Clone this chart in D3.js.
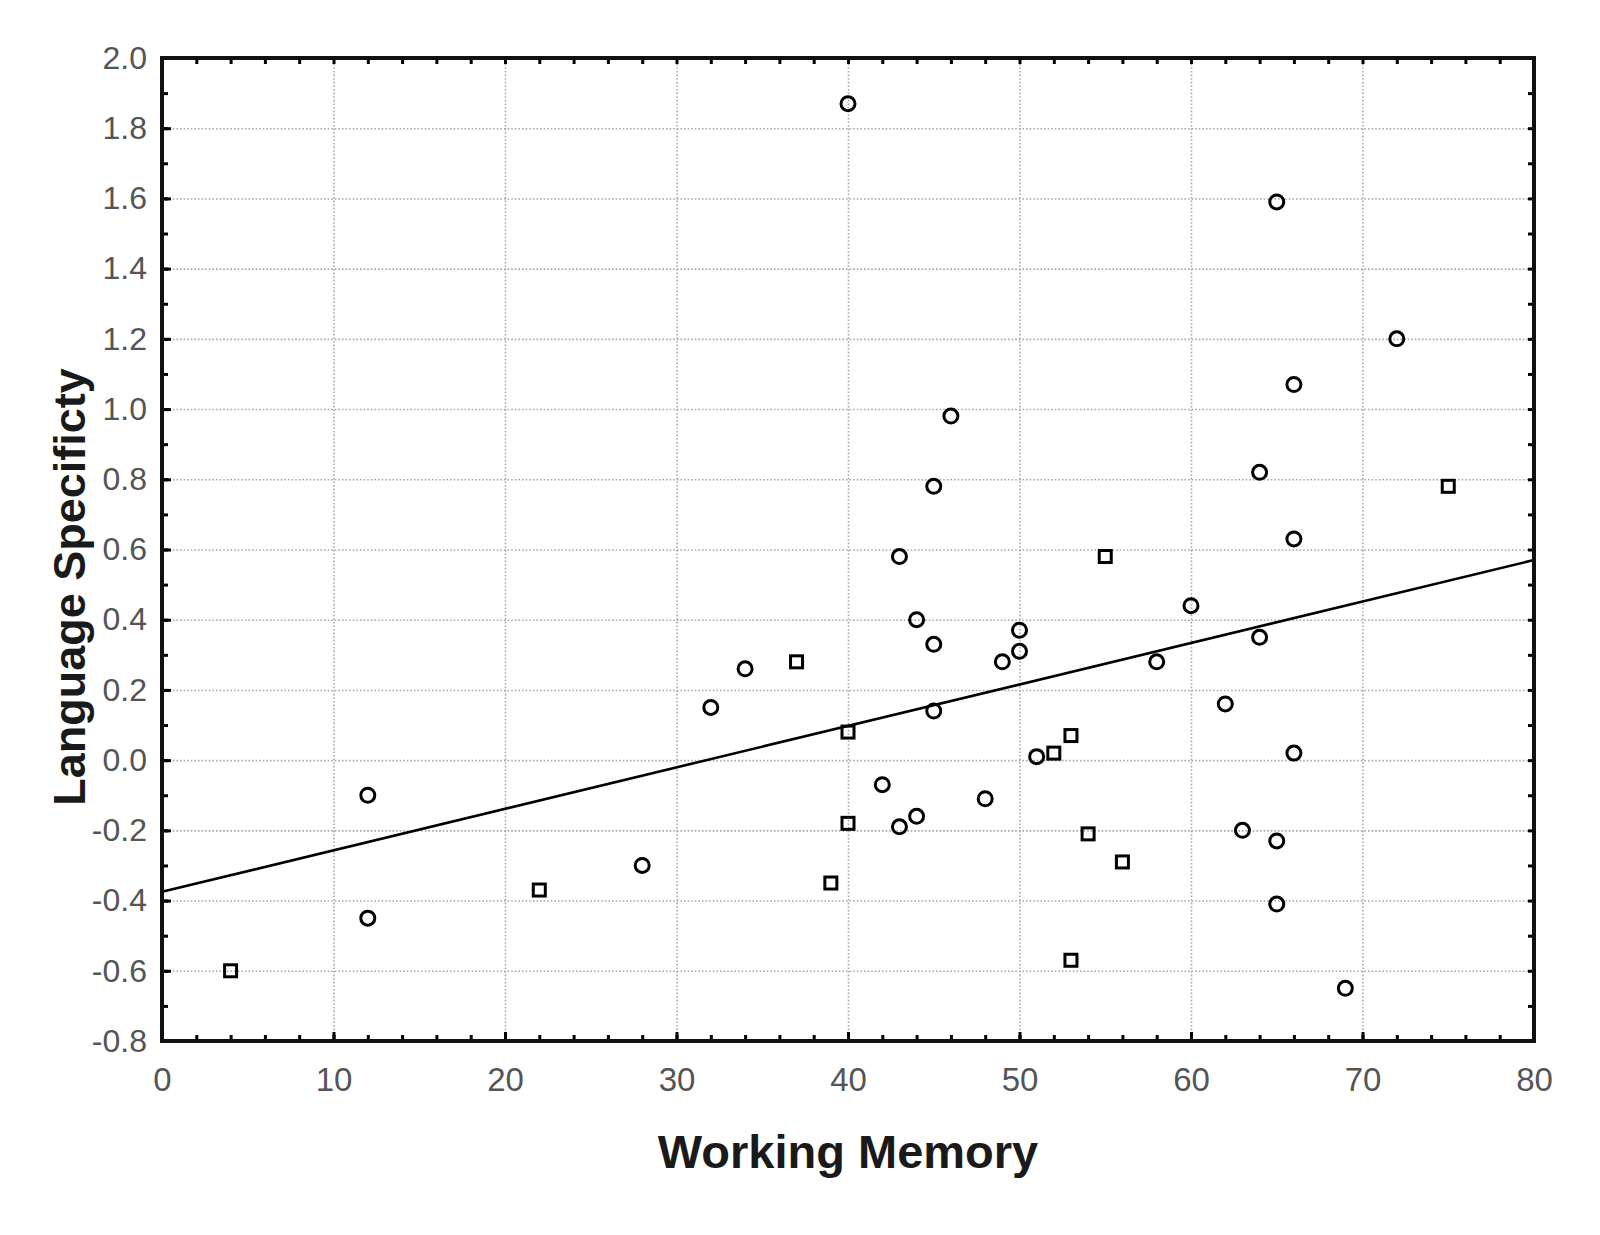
<!DOCTYPE html>
<html>
<head>
<meta charset="utf-8">
<script src="https://cdn.jsdelivr.net/npm/d3@7"></script>
<style>
  body { margin: 0; background: #fff; }
  .grid-line { stroke: #a8a8a8; stroke-width: 1.6; stroke-dasharray: 1.6,2; }
</style>
</head>
<body>
<svg id="chart" width="1600" height="1235"></svg>
<script>
// values
const circleX = [40, 65, 72, 66, 46, 64, 45, 66, 43, 60, 44, 45, 50, 50, 49, 34, 64, 58, 32, 62, 45, 51, 66,
                 42, 48, 12, 63, 44, 43, 65, 28, 12, 65, 69];
const circleY = [1.87, 1.59, 1.20, 1.07, 0.98, 0.82, 0.78, 0.63, 0.58, 0.44, 0.40, 0.33, 0.37, 0.31, 0.28, 0.26, 0.35, 0.28, 0.15, 0.16, 0.14, 0.01, 0.02,
                 -0.07, -0.11, -0.10, -0.20, -0.16, -0.19, -0.23, -0.30, -0.45, -0.41, -0.65];
const squareX = [75, 55, 37, 40, 53, 52, 40, 54, 56, 39, 22, 53, 4];
const squareY = [0.78, 0.58, 0.28, 0.08, 0.07, 0.02, -0.18, -0.21, -0.29, -0.35, -0.37, -0.57, -0.60];
const fitX = [0, 80];
const fitY = [-0.375, 0.57];

const xTicks = [0, 10, 20, 30, 40, 50, 60, 70, 80];
const yTicks = [-0.8, -0.6, -0.4, -0.2, 0.0, 0.2, 0.4, 0.6, 0.8, 1.0, 1.2, 1.4, 1.6, 1.8, 2.0];
const xMinorTicks = d3.range(0, 81, 2);
const yMinorTicks = d3.range(-8, 21).map(d => d / 10);

const xLabel = "Working Memory";
const yLabel = "Language Specificty";

const width = 1600, height = 1235;
const margin = { top: 58, right: 66, bottom: 194, left: 162 };
const innerW = width - margin.left - margin.right;
const innerH = height - margin.top - margin.bottom;

const svg = d3.select("#chart");

const x = d3.scaleLinear().domain([0, 80]).range([margin.left, width - margin.right]);
const y = d3.scaleLinear().domain([-0.8, 2.0]).range([height - margin.bottom, margin.top]);

// dotted grid
svg.append("g")
    .attr("transform", `translate(0,${height - margin.bottom})`)
    .call(d3.axisBottom(x).tickValues(xTicks).tickSize(-innerH).tickFormat(""))
    .call(g => g.select(".domain").remove())
    .selectAll("line")
    .attr("class", "grid-line");

svg.append("g")
    .attr("transform", `translate(${margin.left},0)`)
    .call(d3.axisLeft(y).tickValues(yTicks).tickSize(-innerW).tickFormat(""))
    .call(g => g.select(".domain").remove())
    .selectAll("line")
    .attr("class", "grid-line");

// tick labels
svg.append("g")
    .attr("transform", `translate(0,${height - margin.bottom})`)
    .call(d3.axisBottom(x).tickValues(xTicks).tickSize(0).tickPadding(27))
    .call(g => g.select(".domain").remove())
    .selectAll("text")
    .attr("fill", "#555")
    .style("font-family", "'Liberation Sans', Arial, sans-serif")
    .style("font-size", "33px");

svg.append("g")
    .attr("transform", `translate(${margin.left},0)`)
    .call(d3.axisLeft(y).tickValues(yTicks).tickSize(0).tickPadding(15).tickFormat(d => d.toFixed(1)))
    .call(g => g.select(".domain").remove())
    .selectAll("text")
    .attr("fill", "#555")
    .style("font-family", "'Liberation Sans', Arial, sans-serif")
    .style("font-size", "32px");

// inward tick marks on all four sides
const tickMarks = (axis, tx, ty) => svg.append("g")
    .attr("transform", `translate(${tx},${ty})`)
    .call(axis)
    .call(g => g.select(".domain").remove())
    .selectAll("line")
    .attr("stroke", "#000")
    .attr("stroke-width", 3);

tickMarks(d3.axisBottom(x).tickValues(xMinorTicks).tickSize(-6).tickFormat(""), 0, height - margin.bottom);
tickMarks(d3.axisTop(x).tickValues(xMinorTicks).tickSize(-6).tickFormat(""), 0, margin.top);
tickMarks(d3.axisLeft(y).tickValues(yMinorTicks).tickSize(-6).tickFormat(""), margin.left, 0);
tickMarks(d3.axisRight(y).tickValues(yMinorTicks).tickSize(-6).tickFormat(""), width - margin.right, 0);
tickMarks(d3.axisLeft(y).tickValues(yTicks).tickSize(-9).tickFormat(""), margin.left, 0);
tickMarks(d3.axisBottom(x).tickValues(xTicks).tickSize(-9).tickFormat(""), 0, height - margin.bottom);

// fit line
svg.append("path")
    .datum(d3.zip(fitX, fitY))
    .attr("fill", "none")
    .attr("stroke", "#000")
    .attr("stroke-width", 2.6)
    .attr("d", d3.line().x(d => x(d[0])).y(d => y(d[1])));

// points
svg.append("g")
    .selectAll("circle")
    .data(d3.zip(circleX, circleY))
    .join("circle")
    .attr("cx", d => x(d[0]))
    .attr("cy", d => y(d[1]))
    .attr("r", 7)
    .attr("fill", "none")
    .attr("stroke", "#000")
    .attr("stroke-width", 3);

const sq = 12;
svg.append("g")
    .selectAll("rect")
    .data(d3.zip(squareX, squareY))
    .join("rect")
    .attr("x", d => x(d[0]) - sq / 2)
    .attr("y", d => y(d[1]) - sq / 2)
    .attr("width", sq)
    .attr("height", sq)
    .attr("fill", "none")
    .attr("stroke", "#000")
    .attr("stroke-width", 3);

// frame
svg.append("rect")
    .attr("x", margin.left)
    .attr("y", margin.top)
    .attr("width", innerW)
    .attr("height", innerH)
    .attr("fill", "none")
    .attr("stroke", "#111")
    .attr("stroke-width", 4);

// axis titles
svg.append("text")
    .attr("x", margin.left + innerW / 2)
    .attr("y", 1168)
    .attr("text-anchor", "middle")
    .style("font-family", "'Liberation Sans', Arial, sans-serif")
    .style("font-weight", "bold")
    .style("font-size", "47px")
    .attr("fill", "#1a1a1a")
    .text(xLabel);

svg.append("text")
    .attr("transform", `translate(85,587) rotate(-90)`)
    .attr("text-anchor", "middle")
    .style("font-family", "'Liberation Sans', Arial, sans-serif")
    .style("font-weight", "bold")
    .style("font-size", "45px")
    .attr("fill", "#1a1a1a")
    .text(yLabel);
</script>
</body>
</html>
